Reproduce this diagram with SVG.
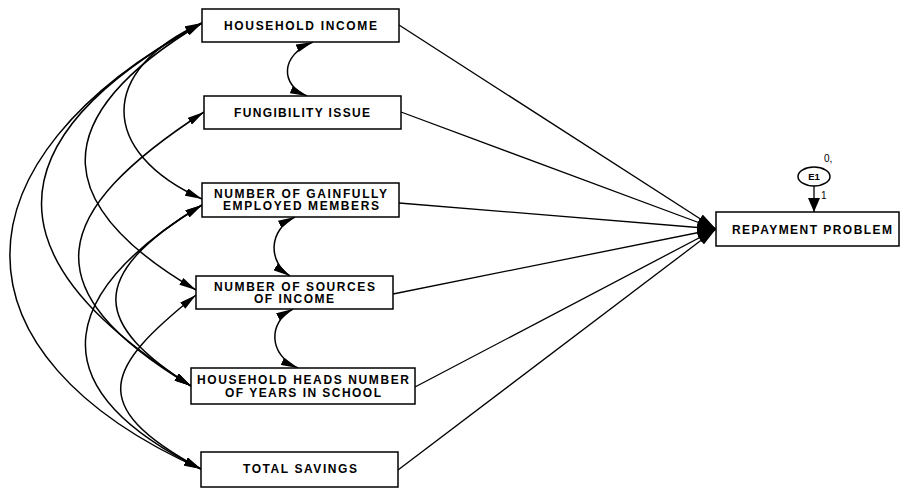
<svg xmlns="http://www.w3.org/2000/svg" width="902" height="488" viewBox="0 0 902 488">
<style>
.box{fill:#fff;stroke:#000;stroke-width:1.5}
.lbl{font-family:"Liberation Sans",Arial,sans-serif;font-weight:bold;font-size:12px;text-anchor:middle;fill:#000}
.cov{fill:none;stroke:#000;stroke-width:1.5;marker-start:url(#ah);marker-end:url(#ah)}
.reg{fill:none;stroke:#000;stroke-width:1.3;marker-end:url(#ahb)}
.sm{font-family:"Liberation Sans",Arial,sans-serif;font-size:10px;fill:#000}
</style>
<defs>
<marker id="ah" markerUnits="userSpaceOnUse" markerWidth="18" markerHeight="8" refX="17" refY="4" orient="auto-start-reverse" viewBox="0 0 18 8"><path d="M0,0 L17,4 L0,8 z" fill="#000"/></marker>
<marker id="ahb" markerUnits="userSpaceOnUse" markerWidth="20" markerHeight="10" refX="19" refY="5" orient="auto" viewBox="0 0 20 10"><path d="M0,0 L19,5 L0,10 z" fill="#000"/></marker>
<marker id="ahe" markerUnits="userSpaceOnUse" markerWidth="14" markerHeight="12" refX="14" refY="6" orient="auto" viewBox="0 0 14 12"><path d="M0,0 L14,6 L0,12 z" fill="#000"/></marker>
</defs>
<g id="connectors">
<path class="cov" d="M202,23 C-54,161 -54,355 201,469"/>
<path class="cov" d="M202,23 C-82,179 74,311 191,386"/>
<path class="cov" d="M202,23 C34,124 61,211 196,290"/>
<path class="cov" d="M202,23 C98,70 98,152 202,199"/>
<path class="cov" d="M204,112 C50,212 29,289 191,386"/>
<path class="cov" d="M202,205 C81,278 97,326 191,386"/>
<path class="cov" d="M202,205 C69,286 26,382 201,469"/>
<path class="cov" d="M196,295 C108,366 82,405 201,469"/>
<path class="cov" d="M313,42 C280,55 280,85 307,96"/>
<path class="cov" d="M295,217 C268,230 268,262 290,276"/>
<path class="cov" d="M293,309 C268,322 268,355 298,368"/>
<path class="reg" d="M399,25 L716,229"/>
<path class="reg" d="M401,112 L716,229"/>
<path class="reg" d="M399,203 L716,229"/>
<path class="reg" d="M393,294 L716,229"/>
<path class="reg" d="M415,387 L716,229"/>
<path class="reg" d="M398,470 L716,229"/>
<path d="M814,186 L814,212" fill="none" stroke="#000" stroke-width="1.3" marker-end="url(#ahe)"/>
<text class="sm" x="821" y="199">1</text>
</g>
<g id="household_income"><rect class="box" x="202" y="9" width="197" height="33"/><text class="lbl" x="300.5" y="30" textLength="153" lengthAdjust="spacing">HOUSEHOLD INCOME</text></g>
<g id="fungibility_issue"><rect class="box" x="204" y="96" width="197" height="33"/><text class="lbl" x="302" y="116.5" textLength="136" lengthAdjust="spacing">FUNGIBILITY ISSUE</text></g>
<g id="gainfully_employed"><rect class="box" x="202" y="183" width="197" height="34"/><text class="lbl" x="300.5" y="197.5" textLength="173" lengthAdjust="spacing">NUMBER OF GAINFULLY</text><text class="lbl" x="301" y="210" textLength="156" lengthAdjust="spacing">EMPLOYED MEMBERS</text></g>
<g id="sources_of_income"><rect class="box" x="196" y="276" width="197" height="33"/><text class="lbl" x="294.5" y="290.5" textLength="161" lengthAdjust="spacing">NUMBER OF SOURCES</text><text class="lbl" x="294" y="303" textLength="80" lengthAdjust="spacing">OF INCOME</text></g>
<g id="years_in_school"><rect class="box" x="191" y="368" width="224" height="36"/><text class="lbl" x="303" y="383.5" textLength="212" lengthAdjust="spacing">HOUSEHOLD HEADS NUMBER</text><text class="lbl" x="303" y="396.5" textLength="156" lengthAdjust="spacing">OF YEARS IN SCHOOL</text></g>
<g id="total_savings"><rect class="box" x="201" y="452" width="197" height="35"/><text class="lbl" x="300" y="473" textLength="114" lengthAdjust="spacing">TOTAL SAVINGS</text></g>
<g id="repayment_problem"><rect class="box" x="716" y="212" width="183" height="34"/><text class="lbl" x="812" y="233.5" textLength="160" lengthAdjust="spacing">REPAYMENT PROBLEM</text></g>
<g id="e1"><ellipse cx="814" cy="176.5" rx="16" ry="9.5" fill="#fff" stroke="#000" stroke-width="1.5"/><text class="lbl" x="814" y="180" style="font-size:9.5px">E1</text><text class="sm" x="824" y="162">0,</text></g>
</svg>
